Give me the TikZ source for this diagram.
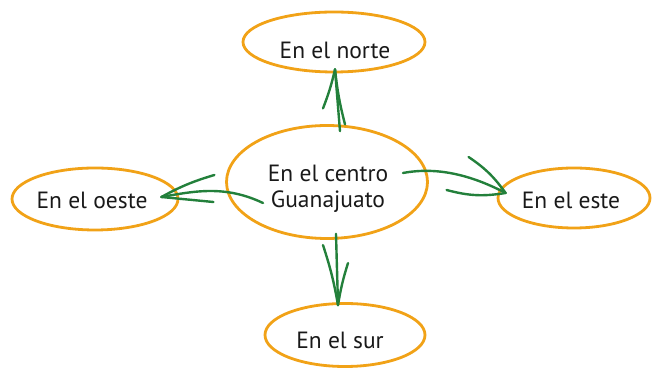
\documentclass[tikz,border=0pt]{standalone}
\usepackage{fontspec}
\setmainfont{PT Sans}
\usetikzlibrary{shapes.geometric}
\definecolor{ochre}{HTML}{F1A217}
\definecolor{leaf}{HTML}{23803B}
\begin{document}
\begin{tikzpicture}[x=1pt,y=1pt,
  oval/.style={ellipse, draw=ochre, line width=2.8pt, inner sep=0pt},
  lbl/.style={font=\fontsize{23.5}{26}\selectfont, text=black!90, align=center, inner sep=0pt},
  link/.style={draw=leaf, line width=2.4pt, line cap=round, line join=round}
]
\useasboundingbox (0,0) rectangle (657,369);
% ovals
\node[oval, minimum width=182pt, minimum height=60pt] (n) at (334,327) {};
\node[oval, minimum width=166pt, minimum height=62pt] (w) at (95,170) {};
\node[oval, minimum width=201pt, minimum height=113pt] (c) at (327,187) {};
\node[oval, minimum width=152pt, minimum height=60pt] (e) at (574,171) {};
\node[oval, minimum width=160pt, minimum height=63pt] (s) at (345,34) {};
% labels
\node[lbl] (nt) at (335,319) {En el norte};
\node[lbl] (wt) at (92,169) {En el oeste};
\node[lbl] (ct) at (328,180) {En el centro\\Guanajuato};
\node[lbl] (et) at (571,169) {En el este};
\node[lbl] (st) at (340,29) {En el sur};
% arrow tips
\coordinate (tn) at ([shift={(1,4)}]n.south);
\coordinate (tw) at ([shift={(-18,2)}]w.east);
\coordinate (te) at ([shift={(9,5)}]e.west);
\coordinate (ts) at ([shift={(-7,-3)}]s.north);
% connectors
\draw[link] ([shift={(13,-7)}]c.north) -- (tn);
\draw[link] (tn) to[bend left=4] ++(-12,-39);
\draw[link] (tn) to[bend right=4] ++(10,-55);
\draw[link] ([shift={(-64,-21)}]c.center) .. controls (225,184) and (195,178) .. (tw);
\draw[link] (tw) to[bend left=6] ++(53,22);
\draw[link] (tw) -- ++(52,-5);
\draw[link] ([shift={(76,9)}]c.center) .. controls (440,203) and (475,192) .. (te);
\draw[link] (te) to[bend right=10] ++(-37,36);
\draw[link] (te) to[bend left=12] ++(-59,3);
\draw[link] ([shift={(9,6)}]c.south) -- (ts);
\draw[link] (ts) to[bend right=4] ++(-15,60);
\draw[link] (ts) to[bend left=4] ++(10,42);
\end{tikzpicture}
\end{document}
